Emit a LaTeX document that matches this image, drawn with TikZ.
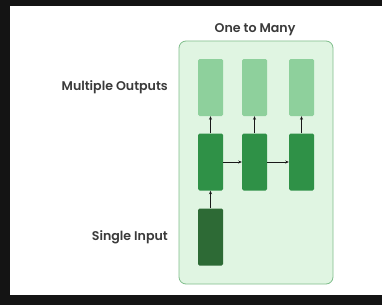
\documentclass[tikz,border=0pt]{standalone}
\usepackage{fontspec}
\setmainfont{Poppins}[BoldFont={Poppins SemiBold}]
\usetikzlibrary{arrows.meta}
\begin{document}
\begin{tikzpicture}[x=1pt,y=-1pt,
  cell/.style={draw=none,rounded corners=1.5pt,minimum width=25pt,minimum height=57pt,inner sep=0pt},
  outc/.style={cell,fill=outg},
  hidc/.style={cell,fill=hidg},
  inc/.style={cell,fill=ing},
  lab/.style={font=\bfseries\fontsize{12.6}{14}\selectfont,text=txt,inner sep=0pt},
  arr/.style={-{Stealth[length=3.5pt,width=3pt]},line width=0.9pt,black!90}]
\definecolor{outg}{HTML}{8ED09C}
\definecolor{hidg}{HTML}{2F9147}
\definecolor{ing}{HTML}{2D6A35}
\definecolor{boxf}{HTML}{E0F5E2}
\definecolor{boxd}{HTML}{80BE8C}
\definecolor{txt}{HTML}{3A3A3A}
\fill[black!92] (0,0) rectangle (382,305);
\fill[white] (10,6) rectangle (382,295);
\useasboundingbox (0,0) rectangle (382,305);
\node[draw=boxd,fill=boxf,line width=0.8pt,rounded corners=7pt,minimum width=154pt,minimum height=243pt,inner sep=0pt] (frame) at (256,162.5) {};
\node[lab] (title) at (255,30) {One to Many};
\node[outc] (o1) at (210.5,87.5) {};
\node[outc] (o2) at (254.5,87.5) {};
\node[outc] (o3) at (301.5,87.5) {};
\node[hidc] (h1) at (210.5,162) {};
\node[hidc] (h2) at (254.5,162) {};
\node[hidc] (h3) at (301.5,162) {};
\node[inc] (i1) at (210.5,237) {};
\node[lab,anchor=east] (lout) at (168,87) {Multiple Outputs};
\node[lab,anchor=east] (lin) at (168,237) {Single Input};
\draw[arr] (h1.north) -- (o1.south);
\draw[arr] (h2.north) -- (o2.south);
\draw[arr] (h3.north) -- (o3.south);
\draw[arr] (i1.north) -- (h1.south);
\draw[arr] (h1.east) -- (h2.west);
\draw[arr] (h2.east) -- (h3.west);
\end{tikzpicture}
\end{document}
